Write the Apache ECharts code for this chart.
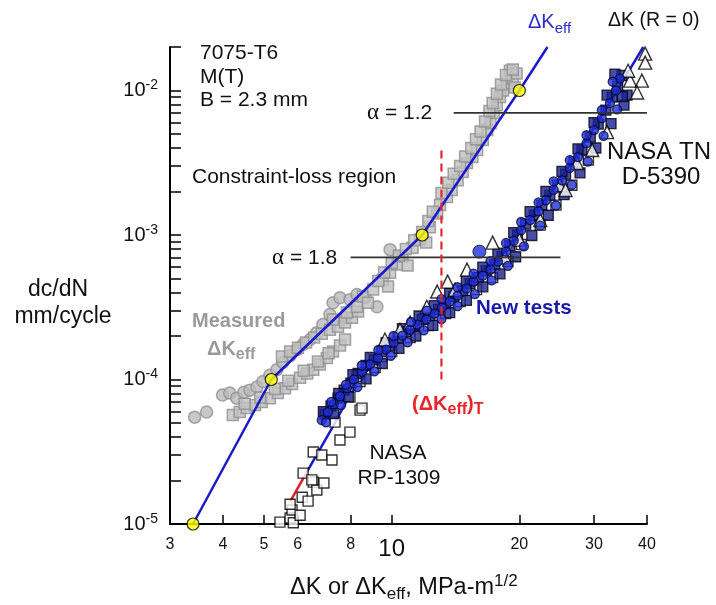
<!DOCTYPE html>
<html><head><meta charset="utf-8">
<script src="https://cdn.jsdelivr.net/npm/echarts@6/dist/echarts.min.js"></script>
<style>html,body{margin:0;padding:0;background:#fff}#c{width:716px;height:605px}</style>
</head><body><div id="c"></div>
<script>
// ---- tick values ----
const xTicks = [3, 4, 5, 6, 8, 10, 20, 30, 40];
const yLabelTicks = [1e-5, 1e-4, 1e-3, 1e-2];
const yTicks = [1e-5,2e-5,3e-5,4e-5,5e-5,6e-5,7e-5,8e-5,9e-5,
                1e-4,2e-4,3e-4,4e-4,5e-4,6e-4,7e-4,8e-4,9e-4,
                1e-3,2e-3,3e-3,4e-3,5e-3,6e-3,7e-3,8e-3,9e-3,
                1e-2,2e-2];

// ---- measured dK_eff (gray) ----
const grayCircles = [[3.43,5.49e-5],[3.66,5.95e-5],[3.99,7.8e-5],[4.15,8.05e-5],[4.31,7.43e-5],[4.48,8.17e-5],
  [4.63,8.44e-5],[4.81,8.86e-5],[4.97,9.69e-5],[5.16,1.07e-4],[5.36,1.17e-4],[5.54,1.31e-4],[5.76,1.46e-4],
  [5.98,1.61e-4],[6.18,1.75e-4],[6.42,1.89e-4],[6.66,2.11e-4],[6.88,2.4e-4],[7.15,2.82e-4],[7.27,3.4e-4],
  [7.55,3.68e-4],[7.97,3.57e-4],[8.28,3.87e-4],[8.66,3.68e-4],[9.23,3.19e-4],[9.91,7.92e-4],[7.76,2.68e-4]];
const graySquares = [[4.22,5.67e-5],[4.38,5.95e-5],[4.55,6.34e-5],[4.76,6.65e-5],[4.94,6.98e-5],[5.16,7.43e-5],
  [5.39,8.05e-5],[5.6,8.71e-5],[5.82,9.29e-5],[6.08,1.03e-4],[6.32,1.1e-4],[6.53,1.17e-4],[6.77,1.27e-4],
  [7.03,1.41e-4],[7.27,1.56e-4],[7.55,1.72e-4],[7.76,1.89e-4],
  [4.5,6.8e-5],[4.9,7.5e-5],[5.3,8.6e-5],[5.7,9.8e-5],[6.2,1.15e-4],[6.7,1.33e-4],[7.1,1.52e-4],
  [5.51,1.44e-4],[5.76,1.56e-4],[6.01,1.66e-4],[6.28,1.8e-4],[6.56,1.95e-4],[6.84,2.07e-4],[7.15,2.21e-4],
  [7.47,2.32e-4],[7.76,2.48e-4],[8.06,2.68e-4],[8.33,2.96e-4],
  [7.27,2.6e-4],[7.84,2.91e-4],[8.28,3.19e-4],[8.56,3.75e-4],[8.79,3.4e-4],[9.04,4.19e-4],[9.53,4.91e-4],
  [9.8,4.4e-4],[9.91,5.49e-4],[10.3,6.24e-4],[10.6,7.09e-4],[10.9,6.14e-4],[11.2,8.17e-4],[11.67,9.29e-4],
  [12.06,8.86e-4],[12.3,1.13e-3],[12.8,1.41e-3],[13.0,1.61e-3],
  [9.3,4.8e-4],[9.6,5.5e-4],[10.0,6.4e-4],[10.4,7.2e-4],[10.8,8.0e-4],[11.3,9.2e-4],[11.8,1.05e-3],
  [12.2,1.25e-3],[12.5,1.45e-3],
  [13.5,1.83e-3],[13.85,2.05e-3],[14.3,2.39e-3],[14.7,2.73e-3],[15.05,3.15e-3],[15.5,3.46e-3],[15.9,3.87e-3],
  [16.4,4.54e-3],[16.8,5.32e-3],[17.1,5.94e-3],[17.4,6.98e-3],[17.7,7.92e-3],[18.0,9.0e-3],[18.3,1e-2],
  [18.7,1.12e-2],[19.0,1.37e-2],[19.3,1.21e-2],[19.7,1.31e-2],[19.5,1.05e-2],
  [13.1,1.95e-3],[13.6,2.3e-3],[14.0,2.65e-3],[14.5,3.0e-3],[14.9,3.5e-3],[15.4,4.0e-3],[15.8,4.6e-3],
  [16.2,5.2e-3],[16.6,6.1e-3],[17.0,7.2e-3],[17.3,8.2e-3],[17.7,9.5e-3],[18.1,1.1e-2],[18.6,1.28e-2],[19.3,1.4e-2]];

// ---- dK_eff fit line and knots ----
const keffLine = [[3.4,1e-5],[5.2,1e-4],[11.8,1e-3],[20,1e-2],[23.3,2e-2]];
const keffKnots = [[3.4,1e-5],[5.2,1e-4],[11.8,1e-3],[20,1e-2]];

// ---- reference lines ----
const alpha12Line = [[14,7e-3],[40,7e-3]];
const alpha18Line = [[8,7e-4],[25,7e-4]];
const thresholdLine = [[13.1,1e-4],[13.1,4e-3]];

// ---- dK (R = 0) fit ----
const r0LowSegment = [[5.76,1.43e-5],[6.35,2.37e-5]];
const r0Line = [[6.35,2.37e-5],[7.26,4.7e-5],[7.9,7.5e-5],[9.0,1.3e-4],[10.5,2.0e-4],[13.7,3.57e-4],
  [18.3,7.55e-4],[24.9,2.39e-3],[32.2,7.67e-3],[39.2,2.0e-2]];

// ---- NASA RP-1309 (open squares) ----
const rp1309 = [[5.45,1.03e-5],[5.76,1.1e-5],[5.82,1.25e-5],[5.76,1.37e-5],[5.86,1.02e-5],[6.08,1.15e-5],
  [6.15,1.53e-5],[6.35,1.44e-5],[6.18,2.25e-5],[6.53,1.95e-5],[6.66,1.72e-5],[6.92,1.92e-5],[6.53,3.15e-5],
  [6.84,3.0e-5],[7.23,2.77e-5],[7.55,3.81e-5],[7.97,4.32e-5],[8.42,6.14e-5],[6.48,2.02e-5],[7.35,5.07e-5],
  [7.76,7.8e-5],[8.51,6.34e-5],[8.42,9.69e-5],[9.14,1.21e-4],[10.0,1.56e-4],[11.05,1.95e-4],[12.2,2.36e-4],
  [13.4,2.86e-4],[14.5,3.46e-4],[15.85,4.19e-4],[17.3,5.07e-4],[18.8,6.55e-4],[20.2,8.6e-4],[22.4,1.17e-3],
  [24.4,1.61e-3],[26.6,2.21e-3],[29.1,3.3e-3],[7.97,7.55e-5],[8.28,1.05e-4],[9.48,1.44e-4]];

// ---- NASA TN D-5390 (open triangles) ----
const tnD5390 = [[10.46,2.21e-4],[11.05,2.48e-4],[12.1,3.19e-4],[12.8,4.06e-4],[13.55,4.76e-4],[15.05,5.76e-4],
  [17.3,8.86e-4],[39.6,1.8e-2],[39.6,1.56e-2],[36.5,1.17e-2],[38.9,1.17e-2],[37.9,9.69e-3],[32.2,5.15e-3],
  [29.7,3.87e-3],[27.35,3.15e-3],[24.9,2.21e-3],[36.1,1.37e-2],[20.0,9.29e-4],[18.5,7.0e-4],[9.64,1.89e-4],
  [14.1,4.19e-4],[22.4,1.27e-3],[25.7,2.05e-3]];

// ---- New tests (blue) ----
const newTestSquares = [[6.96,5.76e-5],[7.19,6.55e-5],[7.47,7.43e-5],[7.72,8.44e-5],[8.01,9.44e-5],[8.33,1.1e-4],
  [8.7,1.25e-4],[9.09,1.37e-4],[9.48,1.56e-4],[9.91,1.72e-4],[10.35,1.95e-4],[10.8,2.14e-4],[11.3,2.36e-4],
  [11.8,2.6e-4],[12.3,2.77e-4],[12.9,3.05e-4],[13.4,3.35e-4],[14.0,3.75e-4],[14.7,4.12e-4],[15.3,4.61e-4],
  [16.0,5.07e-4],[16.7,5.67e-4],[17.5,6.24e-4],[18.2,7.09e-4],[19.0,8.44e-4],[19.8,1e-3],[20.7,1.19e-3],
  [21.7,1.37e-3],[22.6,1.61e-3],[23.6,1.89e-3],[24.6,2.21e-3],[25.7,2.64e-3],[26.9,3.2e-3],[28.1,3.87e-3],
  [29.4,4.76e-3],[30.7,5.85e-3],[32.0,7.31e-3],[33.1,9.0e-3],[34.1,1.07e-2],[34.9,1.27e-2],[35.9,9.29e-3],
  [35.3,7.92e-3],
  [6.9,6.0e-5],[7.5,8.0e-5],[8.1,1.08e-4],[8.9,1.42e-4],[9.7,1.8e-4],[10.6,2.25e-4],[11.6,2.75e-4],[12.6,3.25e-4],
  [13.7,3.95e-4],[15.0,4.85e-4],[16.4,6.0e-4],[17.8,7.5e-4],[19.4,1.04e-3],[21.2,1.45e-3],[23.1,2.0e-3],
  [25.2,2.75e-3],[27.5,3.95e-3],[30.0,6.0e-3],[32.2,9.3e-3],[33.6,1.3e-2],
  [7.3,5.8e-5],[7.9,7.6e-5],[8.7,1.01e-4],[9.5,1.29e-4],[10.4,1.64e-4],[11.4,2.0e-4],[12.5,2.37e-4],[13.7,2.9e-4],
  [15.0,3.53e-4],[16.4,4.38e-4],[18.0,5.38e-4],[19.6,7.07e-4],[21.4,9.92e-4],[23.4,1.37e-3],[25.5,1.9e-3],
  [27.8,2.69e-3],[30.3,4.0e-3],[32.9,5.9e-3],[35.0,9.07e-3]];
const newTestCircles = [[6.84,5.23e-5],[7.07,5.95e-5],[7.31,6.76e-5],[7.55,7.67e-5],[7.84,8.71e-5],[8.15,1.0e-4],
  [8.51,1.13e-4],[8.89,1.27e-4],[9.28,1.41e-4],[9.7,1.61e-4],[10.1,1.8e-4],[10.6,2.01e-4],[11.05,2.21e-4],
  [11.5,2.4e-4],[12.06,2.6e-4],[12.6,2.86e-4],[13.14,3.15e-4],[13.7,3.46e-4],[14.3,3.81e-4],[15.0,4.26e-4],
  [15.6,4.76e-4],[16.4,5.23e-4],[17.1,5.76e-4],[17.8,6.55e-4],[18.6,7.67e-4],[19.4,9.14e-4],[20.2,1.08e-3],
  [21.2,1.27e-3],[22.2,1.46e-3],[23.1,1.74e-3],[24.1,2.05e-3],[25.2,2.39e-3],[26.3,2.91e-3],[27.5,3.46e-3],
  [28.8,4.32e-3],[30.0,5.32e-3],[31.3,6.44e-3],[32.7,8.17e-3],[33.8,1e-2],[34.5,1.21e-2],
  [7.2,7.0e-5],[7.8,9.2e-5],[8.5,1.25e-4],[9.3,1.6e-4],[10.1,2.0e-4],[11.1,2.5e-4],[12.1,3.0e-4],[13.1,3.6e-4],
  [14.3,4.35e-4],[15.6,5.4e-4],[17.1,6.6e-4],[18.6,8.8e-4],[20.2,1.23e-3],[22.2,1.68e-3],[24.1,2.35e-3],
  [26.3,3.3e-3],[28.8,4.9e-3],[31.3,7.3e-3],[33.2,1.15e-2],
  [7.0,5.06e-5],[7.6,6.65e-5],[8.3,8.86e-5],[9.1,1.14e-4],[9.95,1.46e-4],[10.9,1.81e-4],[11.9,2.19e-4],
  [13.1,2.62e-4],[14.3,3.22e-4],[15.7,3.9e-4],[17.2,4.85e-4],[18.8,6.12e-4],[20.5,8.33e-4],[22.4,1.16e-3],
  [24.4,1.6e-3],[26.6,2.22e-3],[29.0,3.22e-3],[31.6,4.85e-3],[34.0,7.4e-3]];
const newTestOutlier = [[16.1,7.67e-4]];

const F = '"Liberation Sans", Arial, Helvetica, sans-serif';
const SERIF = '"Liberation Serif", "DejaVu Serif", serif';
const chart = echarts.init(document.getElementById('c'), null, {renderer: 'canvas'});

function txt(x, y, text, style) {
  return {type: 'text', x: x, y: y, z: 100,
    style: Object.assign({text: text, fontFamily: F, fontSize: 21, fill: '#111', align: 'left', verticalAlign: 'middle'}, style || {})};
}
function subRich(color, size, subSize, weight) {
  return {
    m: {fontFamily: F, fontSize: size, fill: color, color: color, lineHeight: 28, fontWeight: weight || 'normal'},
    s: {fontFamily: F, fontSize: subSize, fill: color, color: color, lineHeight: 15, verticalAlign: 'bottom', fontWeight: weight || 'normal'}
  };
}
function alphaRich() {
  return {a: {fontFamily: SERIF, fontSize: 23, fill: '#111'}, t: {fontFamily: F, fontSize: 21, fill: '#111'}};
}

const noSym = {symbol: 'none', silent: true};

chart.setOption({
  animation: false,
  backgroundColor: '#fff',
  grid: {left: 170, right: 69, top: 47, bottom: 81, containLabel: false},
  xAxis: {
    type: 'log', logBase: 10, min: 3, max: 40,
    axisLine: {show: true, lineStyle: {color: '#000', width: 2}},
    axisTick: {show: true, inside: true, length: 9, customValues: xTicks, lineStyle: {color: '#000', width: 1.5}},
    minorTick: {show: false},
    splitLine: {show: false},
    axisLabel: {
      customValues: xTicks, margin: 13,
      formatter: function (v) { return Math.abs(v - 10) < 1e-6 ? '{big|10}' : '{n|' + Math.round(v) + '}'; },
      rich: {
        big: {fontFamily: F, fontSize: 24, color: '#111'},
        n: {fontFamily: F, fontSize: 16, color: '#111'}
      }
    }
  },
  yAxis: {
    type: 'log', logBase: 10, min: 1e-5, max: 2e-2,
    axisLine: {show: true, lineStyle: {color: '#000', width: 2}},
    axisTick: {show: true, inside: true, length: 11, customValues: yTicks, lineStyle: {color: '#000', width: 1.5}},
    minorTick: {show: false},
    splitLine: {show: false},
    axisLabel: {
      customValues: yLabelTicks, margin: 12,
      formatter: function (v) { return '{b|10}{s|' + Math.round(Math.log10(v)) + '}'; },
      rich: {
        b: {fontFamily: F, fontSize: 20, color: '#111', lineHeight: 24},
        s: {fontFamily: F, fontSize: 14, color: '#111', lineHeight: 14, verticalAlign: 'top'}
      }
    }
  },
  series: [
    {type: 'scatter', name: 'gray circles', data: grayCircles, symbol: 'circle', symbolSize: 12,
     itemStyle: {color: '#bababa', borderColor: '#909090', borderWidth: 1.5}},
    {type: 'scatter', name: 'gray squares', data: graySquares, symbol: 'rect', symbolSize: 11,
     itemStyle: {color: '#c0c0c0', borderColor: '#8e8e8e', borderWidth: 1.5}},
    Object.assign({type: 'line', name: 'keff', data: keffLine, lineStyle: {color: '#1a1acc', width: 2.5}, z: 3}, noSym),
    Object.assign({type: 'line', name: 'r0 low', data: r0LowSegment, lineStyle: {color: '#e02020', width: 2.5}, z: 2}, noSym),
    Object.assign({type: 'line', name: 'r0', data: r0Line, lineStyle: {color: '#1a1acc', width: 2.5}, z: 2}, noSym),
    {type: 'scatter', name: 'RP-1309', data: rp1309, symbol: 'rect', symbolSize: 10, z: 4,
     itemStyle: {color: '#fff', borderColor: '#000', borderWidth: 1.4}},
    {type: 'scatter', name: 'new squares', data: newTestSquares, symbol: 'rect', symbolSize: 10, z: 4,
     itemStyle: {color: '#1a2290', borderColor: '#000010', borderWidth: 1.3}},
    {type: 'scatter', name: 'TN D-5390', data: tnD5390, symbol: 'triangle', symbolSize: 13, z: 4,
     itemStyle: {color: '#fff', borderColor: '#000', borderWidth: 1.4}},
    {type: 'scatter', name: 'new circles', data: newTestCircles, symbol: 'circle', symbolSize: 9, z: 4,
     itemStyle: {color: '#1f30dc', borderColor: '#06062e', borderWidth: 1.3}},
    {type: 'scatter', name: 'new outlier', data: newTestOutlier, symbol: 'circle', symbolSize: 13, z: 4,
     itemStyle: {color: '#1f30dc', borderColor: '#06062e', borderWidth: 1}},
    Object.assign({type: 'line', name: 'alpha12', data: alpha12Line, lineStyle: {color: '#333', width: 1.8}, z: 5}, noSym),
    Object.assign({type: 'line', name: 'alpha18', data: alpha18Line, lineStyle: {color: '#333', width: 1.8}, z: 5}, noSym),
    Object.assign({type: 'line', name: 'threshold', data: thresholdLine, lineStyle: {color: '#e8262a', width: 2.2, type: [8, 5]}, z: 6}, noSym),
    {type: 'scatter', name: 'knots', data: keffKnots, symbol: 'circle', symbolSize: 12, z: 7, clip: false,
     itemStyle: {color: '#ffff00', borderColor: '#000', borderWidth: 1.2}}
  ],
  graphic: [
    txt(200, 53, '7075-T6'),
    txt(200, 77, 'M(T)'),
    txt(200, 100, 'B = 2.3 mm'),
    txt(192, 177, 'Constraint-loss region'),
    txt(367, 113, '{a|α}{t| = 1.2}', {rich: alphaRich()}),
    txt(272, 258, '{a|α}{t| = 1.8}', {rich: alphaRich()}),
    txt(528, 22, '{m|ΔK}{s|eff}', {rich: subRich('#2a2ad0', 20, 15)}),
    txt(608, 21, 'ΔK (R = 0)', {fontSize: 19.5}),
    txt(659, 152, 'NASA TN', {align: 'center', fontSize: 24}),
    txt(661, 177, 'D-5390', {align: 'center', fontSize: 24}),
    txt(192, 321, 'Measured', {fill: '#9a9a9a', fontWeight: 'bold', fontSize: 20}),
    txt(207, 349, '{m|ΔK}{s|eff}', {rich: subRich('#9a9a9a', 20, 16, 'bold')}),
    txt(476, 308, 'New tests', {fill: '#1a1aa8', fontWeight: 'bold', fontSize: 20.5}),
    txt(412, 404, '{m|(ΔK}{s|eff}{m|)}{s|T}', {rich: subRich('#e8262a', 20, 16, 'bold')}),
    txt(398, 453, 'NASA', {align: 'center'}),
    txt(399, 478, 'RP-1309', {align: 'center'}),
    txt(58, 290, 'dc/dN', {align: 'center', fontSize: 23}),
    txt(63, 317, 'mm/cycle', {align: 'center', fontSize: 23}),
    txt(290, 588, '{m|ΔK or ΔK}{s|eff}{m|, MPa-m}{p|1/2}', {rich: {
      m: {fontFamily: F, fontSize: 23.5, fill: '#111', lineHeight: 30},
      s: {fontFamily: F, fontSize: 17, fill: '#111', lineHeight: 18, verticalAlign: 'bottom'},
      p: {fontFamily: F, fontSize: 17, fill: '#111', lineHeight: 8, verticalAlign: 'top'}
    }})
  ]
});
</script></body></html>
